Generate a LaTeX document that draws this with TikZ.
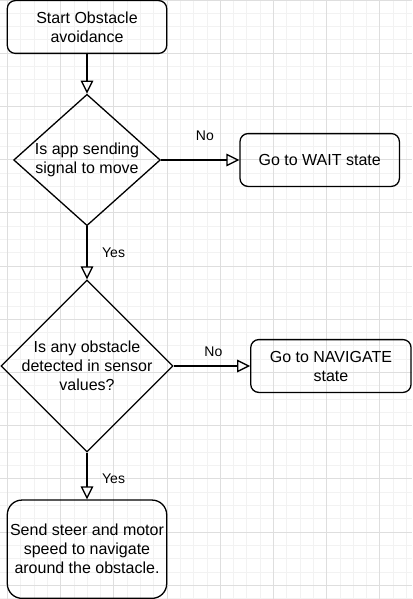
\documentclass[tikz,border=0pt]{standalone}
\usepackage{fontspec}
\setmainfont{Liberation Sans}
\usetikzlibrary{shapes.geometric,arrows.meta}
\begin{document}
\begin{tikzpicture}[x=1pt,y=-1pt,
            box/.style={draw, line width=1.3pt, rounded corners=8pt, align=center, inner sep=0pt, minimum width=159.4pt, minimum height=52.8pt, font=\fontsize{16}{19}\selectfont},
            choice/.style={draw, shape=diamond, line width=1.3pt, align=center, inner sep=-6pt, font=\fontsize{16}{19}\selectfont},
            flow/.style={line width=1.3pt, -{Triangle[open,length=13pt,width=12.6pt]}},
            lbl/.style={inner sep=0pt, font=\fontsize{14}{17}\selectfont},
            minorline/.style={black!5, line width=1pt},
            majorline/.style={black!13, line width=1pt}]
            \useasboundingbox (0,0) rectangle (412,599);
            \fill[white] (0,0) rectangle (412,599);
            \foreach \i in {0,...,30} \draw[minorline] ({7.5+13.3*\i},0) -- ++(0,599);
            \foreach \i in {0,...,45} \draw[minorline] (0,{0.1+13.3*\i}) -- ++(412,0);
            \foreach \i in {0,...,7} \draw[majorline] ({7.5+53.2*\i},0) -- ++(0,599);
            \foreach \i in {0,...,11} \draw[majorline] (0,{0.1+53.2*\i}) -- ++(412,0);
            \node[box] (start) at (87,27) {Start Obstacle\\avoidance};
            \node[choice, minimum width=146.7pt, minimum height=131.4pt] (move) at (87,160) {Is app sending\\signal to move};
            \node[box] (wait) at (319.7,160) {Go to WAIT state};
            \node[choice, minimum width=172pt, minimum height=172pt] (obstacle) at (87,366) {Is any obstacle\\detected in sensor\\values?};
            \node[box, minimum width=160.3pt] (navigate) at (330.9,366) {Go to NAVIGATE\\state};
            \node[box, minimum height=98.3pt, rounded corners=14.7pt] (steer) at (87,549.2) {Send steer and motor\\speed to navigate\\around the obstacle.};
            \draw[flow] (start) -- (move);
            \draw[flow] (move) -- node[lbl, pos=0.56, yshift=24pt] {No} (wait);
            \draw[flow] (move) -- node[lbl, xshift=26.6pt] {Yes} (obstacle);
            \draw[flow] (obstacle) -- node[lbl, pos=0.52, yshift=14.3pt] {No} (navigate);
            \draw[flow] (obstacle) -- node[lbl, pos=0.56, xshift=26.6pt] {Yes} (steer);
        \end{tikzpicture}
\end{document}
